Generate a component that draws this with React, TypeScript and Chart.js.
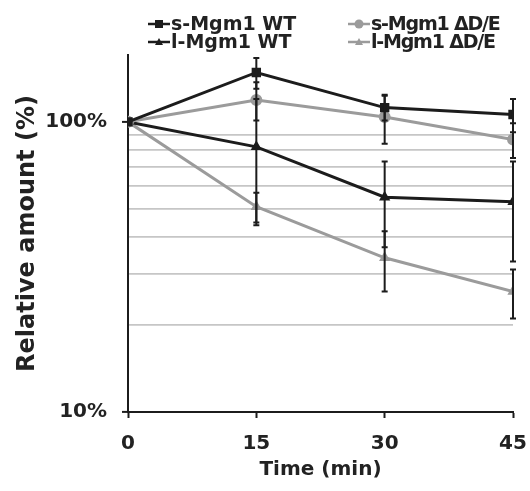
import React, { useEffect, useRef } from "react";
import { Chart, registerables } from "chart.js";

Chart.register(...registerables);

const times = [0, 15, 30, 45];
const xTickLabels = ["0", "15", "30", "45"];
const yLabeledTicks = [10, 100];
const yGridTicks = [10, 20, 30, 40, 50, 60, 70, 80, 90, 100];

const seriesNames = ["s-Mgm1 WT", "s-Mgm1 ΔD/E", "l-Mgm1 WT", "l-Mgm1 ΔD/E"];
const sWT = [100, 148, 112, 106];
const sDE = [100, 119, 104, 87];
const lWT = [100, 82, 55, 53];
const lDE = [100, 51, 34, 26];
const sWTErr = [0, 18, 11, 14];
const sDEErr = [0, 18, 20, 12];
const lWTErr = [0, 38, 18, 20];
const lDEErr = [0, 6, 8, 5];

const BLACK = "#1c1c1c";
const GRAY = "#9b9b9b";
const FONT = "'DejaVu Sans', sans-serif";

const errorBarPlugin = {
  id: "errorBars",
  afterDatasetsDraw(chart: any) {
    const ctx = chart.ctx;
    const y = chart.scales.y;
    ctx.save();
    ctx.strokeStyle = BLACK;
    ctx.lineWidth = 2;
    chart.data.datasets.forEach((ds: any, i: number) => {
      const meta = chart.getDatasetMeta(i);
      meta.data.forEach((pt: any, j: number) => {
        const e = ds.errors[j];
        if (!e) return;
        const v = ds.data[j].y;
        const yTop = y.getPixelForValue(v + e);
        const yBot = y.getPixelForValue(v - e);
        const x = pt.x;
        ctx.beginPath();
        ctx.moveTo(x, yTop);
        ctx.lineTo(x, yBot);
        ctx.moveTo(x - 3, yTop);
        ctx.lineTo(x + 3, yTop);
        ctx.moveTo(x - 3, yBot);
        ctx.lineTo(x + 3, yBot);
        ctx.stroke();
      });
    });
    ctx.restore();
  },
};

function Marker({ color, shape }: { color: string; shape: string }) {
  return (
    <svg width={22} height={12} style={{ display: "block" }}>
      <line x1={0} y1={6} x2={22} y2={6} stroke={color} strokeWidth={2.5} />
      {shape === "rect" && <rect x={7} y={2} width={8} height={8} fill={color} />}
      {shape === "circle" && <circle cx={11} cy={6} r={4.5} fill={color} />}
      {shape === "triangle" && <polygon points="11,2 15,9 7,9" fill={color} />}
    </svg>
  );
}

const legendItems = [
  { name: seriesNames[0], color: BLACK, shape: "rect", left: 148, top: 14, ls: 0 },
  { name: seriesNames[1], color: GRAY, shape: "circle", left: 348, top: 14, ls: -1.2 },
  { name: seriesNames[2], color: BLACK, shape: "triangle", left: 148, top: 32, ls: 0 },
  { name: seriesNames[3], color: GRAY, shape: "triangle", left: 348, top: 32, ls: -1.2 },
];

export default function App() {
  const canvasRef = useRef<HTMLCanvasElement | null>(null);

  useEffect(() => {
    if (!canvasRef.current) return;
    const mk = (vals: number[]) => vals.map((v, i) => ({ x: times[i], y: v }));
    const chart = new Chart(canvasRef.current, {
      type: "line",
      data: {
        datasets: [
          { label: seriesNames[0], data: mk(sWT), errors: sWTErr, borderColor: BLACK, backgroundColor: BLACK, pointStyle: "rect", pointRadius: 4.5, borderWidth: 3 } as any,
          { label: seriesNames[1], data: mk(sDE), errors: sDEErr, borderColor: GRAY, backgroundColor: GRAY, pointStyle: "circle", pointRadius: 4.5, borderWidth: 3 } as any,
          { label: seriesNames[2], data: mk(lWT), errors: lWTErr, borderColor: BLACK, backgroundColor: BLACK, pointStyle: "triangle", pointRadius: 3.5, borderWidth: 3 } as any,
          { label: seriesNames[3], data: mk(lDE), errors: lDEErr, borderColor: GRAY, backgroundColor: GRAY, pointStyle: "triangle", pointRadius: 3.5, borderWidth: 3 } as any,
        ],
      },
      options: {
        animation: false,
        responsive: false,
        maintainAspectRatio: false,
        layout: { padding: { top: 55, right: 17, left: 0, bottom: 0 } },
        plugins: { legend: { display: false }, tooltip: { enabled: false } },
        scales: {
          x: {
            type: "linear",
            min: 0,
            max: 45,
            afterBuildTicks: (s: any) => {
              s.ticks = times.map((v) => ({ value: v }));
            },
            afterFit: (s: any) => {
              s.height = 79;
              s.paddingLeft = 0;
              s.paddingRight = 0;
            },
            ticks: {
              callback: (v: any, i: number) => xTickLabels[i],
              font: { family: FONT, size: 20, weight: "bold" },
              color: "#222",
              padding: 14,
              maxRotation: 0,
            },
            grid: { drawOnChartArea: false, drawTicks: true, tickLength: 6, tickColor: BLACK, tickWidth: 2 },
            border: { color: BLACK, width: 2 },
            title: {
              display: true,
              text: "Time (min)",
              font: { family: FONT, size: 20, weight: "bold" },
              color: "#222",
              padding: { top: 0, bottom: 9 },
            },
          },
          y: {
            type: "logarithmic",
            min: 10,
            max: 170,
            afterBuildTicks: (s: any) => {
              s.ticks = yGridTicks.map((v) => ({ value: v }));
            },
            afterFit: (s: any) => {
              s.width = 128;
              s.paddingTop = 0;
              s.paddingBottom = 0;
            },
            ticks: {
              callback: (v: any) => (yLabeledTicks.includes(Number(v)) ? v + "%" : ""),
              font: { family: FONT, size: 20, weight: "bold" },
              color: "#222",
              padding: 15,
              autoSkip: false,
            },
            grid: {
              color: (c: any) =>
                c.tick && !yLabeledTicks.includes(c.tick.value) ? "#c6c6c6" : "rgba(0,0,0,0)",
              lineWidth: 1.8,
              tickLength: 6,
              tickColor: (c: any) =>
                c.tick && yLabeledTicks.includes(c.tick.value) ? BLACK : "rgba(0,0,0,0)",
              tickWidth: 2,
            },
            border: { color: BLACK, width: 2 },
            title: {
              display: true,
              text: "Relative amount (%)",
              font: { family: FONT, size: 24, weight: "bold" },
              color: "#222",
              padding: { top: 13, bottom: 0 },
            },
          },
        },
      } as any,
      plugins: [errorBarPlugin],
    });
    return () => chart.destroy();
  }, []);

  return (
    <div style={{ position: "fixed", left: 0, top: 0, width: 530, height: 491, background: "#fff" }}>
      <canvas ref={canvasRef} width={530} height={491} style={{ position: "absolute", left: 0, top: 0 }} />
      {legendItems.map((it) => (
        <div
          key={it.name}
          style={{
            position: "absolute",
            left: it.left,
            top: it.top,
            display: "flex",
            alignItems: "center",
            gap: 1,
            fontFamily: FONT,
            fontWeight: "bold",
            fontSize: 19,
            lineHeight: "19px",
            letterSpacing: it.ls,
            color: "#222",
            whiteSpace: "nowrap",
          }}
        >
          <Marker color={it.color} shape={it.shape} />
          <span>{it.name}</span>
        </div>
      ))}
    </div>
  );
}
